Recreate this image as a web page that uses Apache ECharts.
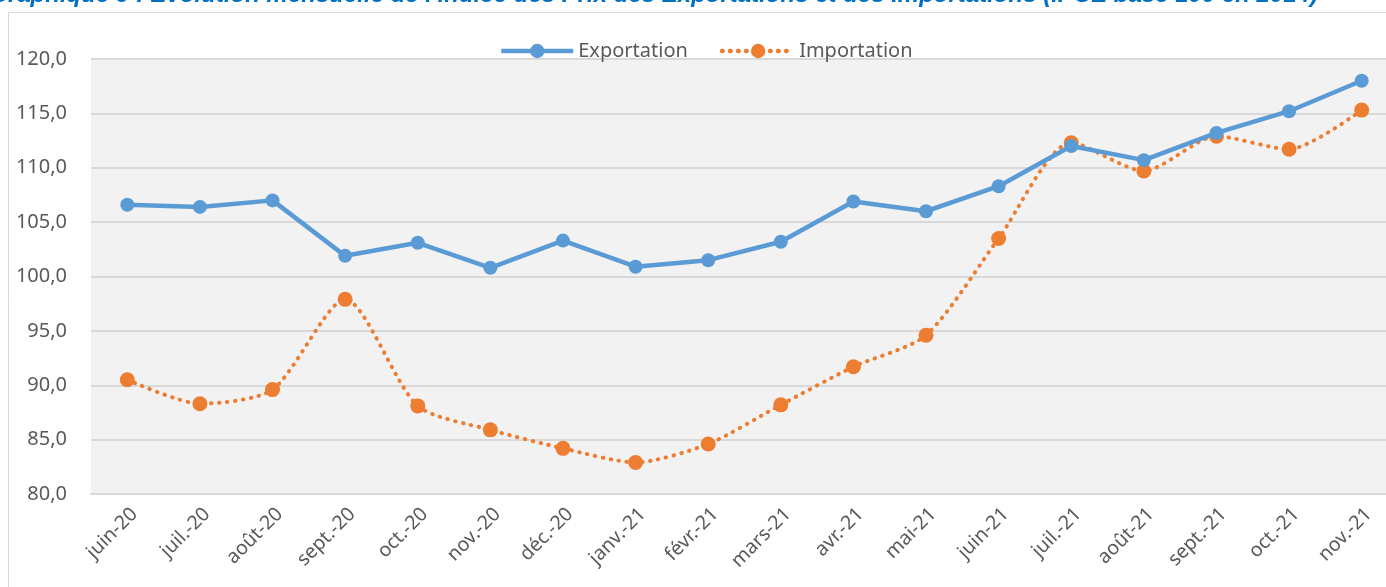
<!DOCTYPE html>
<html><head><meta charset="utf-8">
<script src="https://cdn.jsdelivr.net/npm/echarts@6/dist/echarts.min.js"></script>
<style>html,body{margin:0;padding:0;background:#fff}#c{width:1386px;height:587px}</style>
</head><body><div id="c"></div>
<script>
const categories = ["juin-20","juil.-20","août-20","sept.-20","oct.-20","nov.-20","déc.-20","janv.-21","févr.-21","mars-21","avr.-21","mai-21","juin-21","juil.-21","août-21","sept.-21","oct.-21","nov.-21"];
const exportation = [106.6,106.4,107.0,101.9,103.1,100.8,103.3,100.9,101.5,103.2,106.9,106.0,108.3,112.0,110.7,113.2,115.2,118.0];
const importation = [90.5,88.3,89.6,97.9,88.1,85.9,84.2,82.9,84.6,88.2,91.7,94.6,103.5,112.3,109.7,112.9,111.7,115.3];
const titleText = "Graphique 9 : Evolution mensuelle de l'indice des Prix des Exportations et des Importations (IPCE base 100 en 2014)";

const chart = echarts.init(document.getElementById('c'), null, {renderer:'canvas'});
const font = "'Noto Sans', 'Open Sans', sans-serif";
chart.setOption({
  animation:false,
  backgroundColor:'#fff',
  title:{text:titleText, right:68, top:-17, padding:0, textStyle:{fontFamily:'Liberation Sans, Arial', fontSize:24, fontWeight:'bold', fontStyle:'italic', color:'#0070c0'}},
  graphic:[{type:'rect', z:-1, shape:{x:8.5,y:12.5,width:1400,height:600}, style:{fill:'none', stroke:'#d9d9d9', lineWidth:1}}],
  legend:{top:36, left:494, itemWidth:72, itemHeight:18, itemGap:32,
    lineStyle:{width:4.5},
    textStyle:{fontFamily:font, fontSize:20, color:'#595959'},
    data:['Exportation','Importation']},
  grid:{left:91, top:59, width:1307, height:435, containLabel:false, outerBoundsMode:'none', show:true, backgroundColor:'#f2f2f2', borderWidth:0},
  xAxis:{type:'category', data:categories, boundaryGap:true,
    axisLine:{show:true, lineStyle:{color:'#d9d9d9', width:2}}, axisTick:{show:false},
    axisLabel:{rotate:45, interval:0, margin:10, verticalAlign:'top', fontFamily:font, fontSize:19.5, color:'#595959'}},
  yAxis:{type:'value', min:80, max:120, interval:5,
    axisLine:{show:false}, axisTick:{show:false},
    splitLine:{lineStyle:{color:'#d9d9d9', width:2}},
    axisLabel:{fontFamily:font, fontSize:20, color:'#595959', margin:24,
      formatter:v=>v.toFixed(1).replace('.',',')}},
  series:[
    {name:'Exportation', type:'line', data:exportation, symbol:'circle', symbolSize:14,
      lineStyle:{color:'#5b9bd5', width:4.5}, itemStyle:{color:'#5b9bd5'}, z:3},
    {name:'Importation', type:'line', data:importation, symbol:'circle', symbolSize:15, smooth:0.25,
      lineStyle:{color:'#ed7d31', width:4, type:[0.5,7.5], cap:'round'}, itemStyle:{color:'#ed7d31'}, z:2}
  ]
});
</script></body></html>
